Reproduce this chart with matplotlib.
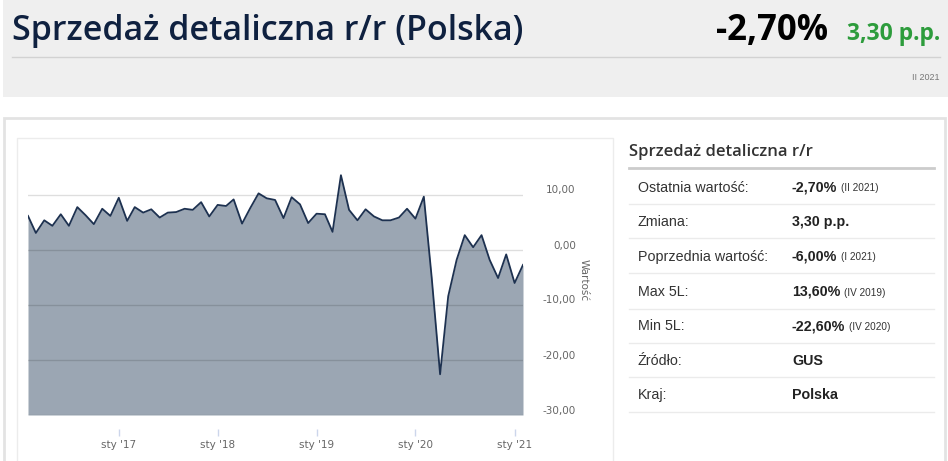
import matplotlib

matplotlib.use("Agg")
import matplotlib.pyplot as plt
import matplotlib.transforms as mtrans
from matplotlib.patches import Rectangle
from matplotlib.lines import Line2D
import pandas as pd

W, H = 948, 461

# monthly retail sales y/y, Feb 2016 .. Feb 2021
months = pd.date_range("2016-02-01", periods=61, freq="MS")
values = [6.2, 3.1, 5.4, 4.4, 6.5, 4.4, 7.8, 6.3, 4.7, 7.5, 6.2, 9.5,
          5.3, 7.8, 6.8, 7.4, 5.9, 6.8, 6.9, 7.5, 7.3, 8.7, 6.1, 8.2,
          8.0, 9.2, 4.8, 7.6, 10.3, 9.4, 9.1, 5.8, 9.6, 8.3, 4.9, 6.6,
          6.5, 3.3, 13.6, 7.3, 5.4, 7.4, 6.1, 5.4, 5.4, 5.9, 7.5, 5.7,
          9.7, -5.0, -22.6, -8.4, -1.8, 2.7, 0.5, 2.7, -1.8, -5.1, -0.8,
          -6.0, -2.7]
tick_dates = pd.to_datetime(["2017-01-01", "2018-01-01", "2019-01-01",
                             "2020-01-01", "2021-01-01"])
tick_labels = ["sty '17", "sty '18", "sty '19", "sty '20", "sty '21"]
y_ticks = [10, 0, -10, -20, -30]
y_labels = ["10,00", "0,00", "-10,00", "-20,00", "-30,00"]

title = "Sprzedaż detaliczna r/r (Polska)"
last_value = "-2,70%"
change = "3,30 p.p."
period = "II 2021"
table_title = "Sprzedaż detaliczna r/r"
row_labels = ["Ostatnia wartość:", "Zmiana:", "Poprzednia wartość:",
              "Max 5L:", "Min 5L:", "Źródło:", "Kraj:"]
row_values = ["-2,70%", "3,30 p.p.", "-6,00%", "13,60%", "-22,60%",
              "GUS", "Polska"]
row_notes = ["(II 2021)", "", "(I 2021)", "(IV 2019)", "(IV 2020)", "", ""]

NAVY = "#0f2140"
FILL = "#9ba6b3"
LINE = "#1d3150"
AXTXT = "#666666"


def fx(x):
    return x / W


def fy(y):
    return 1 - y / H


def rect(fig, x0, y0, x1, y1, **kw):
    fig.add_artist(Rectangle((fx(x0), fy(y1)), fx(x1) - fx(x0), fy(y0) - fy(y1),
                             transform=fig.transFigure, zorder=-5, **kw))


def hline(fig, x0, x1, y, **kw):
    fig.add_artist(Line2D([fx(x0), fx(x1)], [fy(y), fy(y)],
                          transform=fig.transFigure, **kw))


fig = plt.figure(figsize=(W / 100, H / 100), dpi=100)

# header panel
rect(fig, 3, 0, W, 97, facecolor="#efefef", edgecolor="none")
hline(fig, 12, 940, 57, color="#d2d2d2", lw=1.0)
fig.text(fx(12), fy(31), title, fontsize=24.5, color=NAVY,
         family="Open Sans", weight="semibold", va="center", ha="left")
fig.text(fx(828), fy(31), last_value, fontsize=25, color="black",
         family="Open Sans", weight="bold", va="center", ha="right")
fig.text(fx(940), fy(34), change, fontsize=16.5, color="#2d9c3c",
         family="Open Sans", weight="bold", va="center", ha="right")
fig.text(fx(940), fy(78), period, fontsize=6.5, color="#777777",
         family="Liberation Sans", va="center", ha="right")

# lower panel frames
rect(fig, 4, 118, W - 3, H + 5, facecolor="white", edgecolor="#e3e3e3", lw=2)
rect(fig, 17, 138, 613, H + 5, facecolor="white", edgecolor="#ececec", lw=1)

# chart
ymin, ymax = -30, 18
top_px, bot_px = 250 - 18 * 5.5, 415
ax = fig.add_axes([fx(28), fy(bot_px), fx(523) - fx(28),
                   fy(top_px) - fy(bot_px)])
ax.set_zorder(2)
ax.patch.set_alpha(0)
ax.fill_between(months, values, ymin, color=FILL, lw=0, zorder=1)
ax.plot(months, values, color=LINE, lw=1.3, zorder=3)
for v in y_ticks:
    ax.axhline(v, color=(0, 0, 0, 0.13), lw=1, zorder=2)
ax.set_xlim(months[0], months[-1])
ax.set_ylim(ymin, ymax)
for s in ax.spines.values():
    s.set_visible(False)
ax.spines["bottom"].set_position(("outward", 10))

ax.set_xticks(tick_dates)
ax.set_xticklabels(tick_labels)
ax.tick_params(axis="x", length=5, width=1, color="#ccd6eb",
               labelcolor=AXTXT, labelsize=7.5, pad=3)

ax.yaxis.tick_right()
ax.set_yticks(y_ticks)
ax.set_yticklabels(y_labels)
ax.tick_params(axis="y", length=0, labelcolor=AXTXT, labelsize=7.5, pad=38)
shift = mtrans.ScaledTranslation(0, 5.5 / 100, fig.dpi_scale_trans)
for lab in ax.get_yticklabels():
    lab.set_horizontalalignment("right")
    lab.set_transform(lab.get_transform() + shift)
ax.yaxis.set_label_position("right")
ax.set_ylabel("Wartość", rotation=270, color=AXTXT, fontsize=7.5)
ax.yaxis.set_label_coords((589 - 28) / 495, 0.51)

# info table
fig.text(fx(629), fy(152), table_title, fontsize=12, color="#333333",
         family="Open Sans", weight="semibold", va="center", ha="left")
hline(fig, 629, 934, 168.5, color="#cccccc", lw=2)
row_centers = [187.5, 221.5, 256.5, 292, 326.5, 360.5, 395]
for i, (lab, val, note) in enumerate(zip(row_labels, row_values, row_notes)):
    yc = row_centers[i]
    fig.text(fx(638), fy(yc), lab, fontsize=10.3, color="#333333",
             family="Liberation Sans", va="center", ha="left")
    t = fig.text(fx(792), fy(yc), val, fontsize=10.3, color="#222222",
                 family="Liberation Sans", weight="bold", va="center",
                 ha="left")
    if note:
        fig.canvas.draw()
        bb = t.get_window_extent()
        fig.text((bb.x1 + 4) / W, fy(yc + 0.5), note, fontsize=7.2,
                 color="#333333", family="Liberation Sans", va="center",
                 ha="left")
    hline(fig, 629, 934, yc + 16.5, color="#ebebeb", lw=1)

fig.savefig("out.png", dpi=100)
